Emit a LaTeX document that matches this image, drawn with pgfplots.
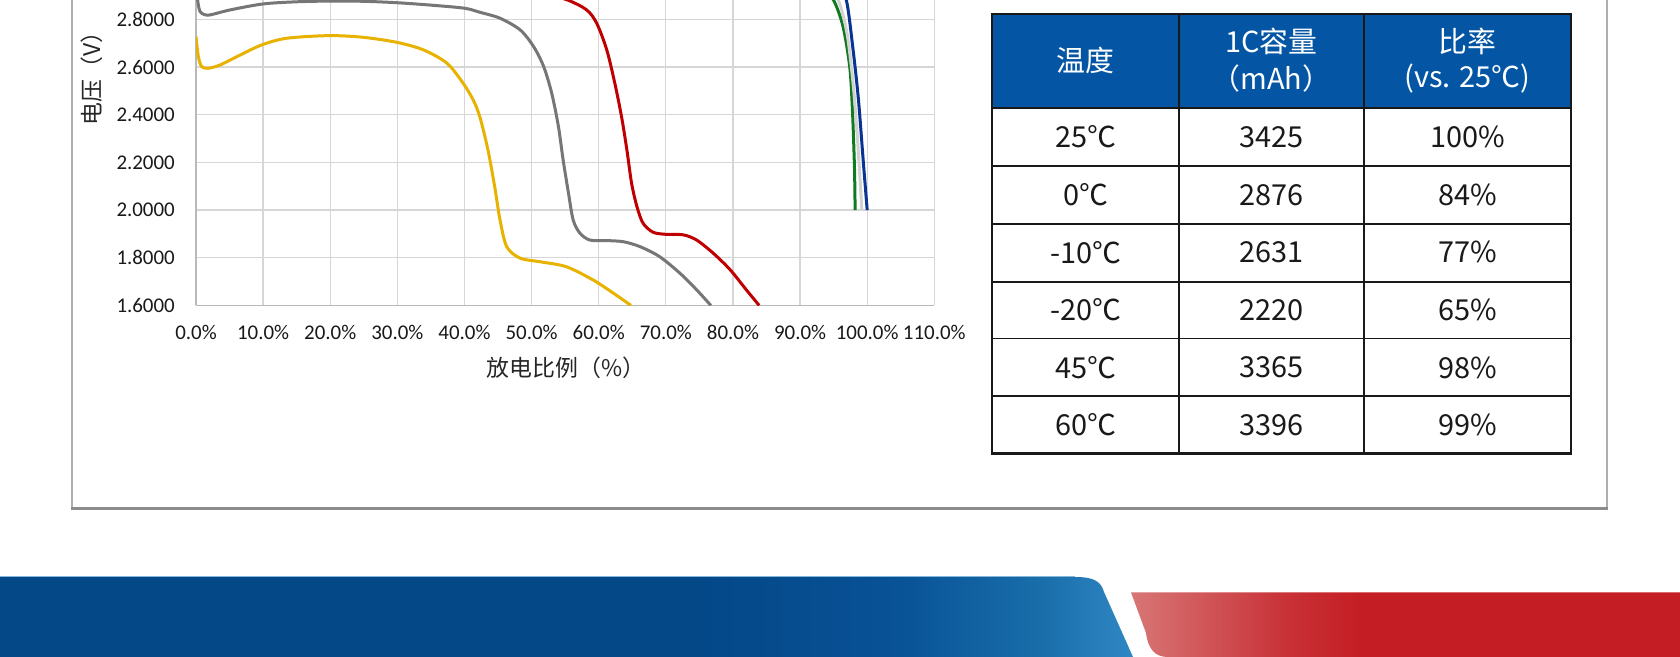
\documentclass[border=0pt]{standalone}
\usepackage{fontspec}
\setmainfont{Carlito}
\newfontfamily\cjk{Noto Sans CJK SC}
\usepackage{pgfplots}
\pgfplotsset{compat=1.18}

\definecolor{gridc}{RGB}{214,214,214}
\definecolor{axc}{RGB}{185,185,185}
\definecolor{framec}{RGB}{140,140,140}
\definecolor{yel}{RGB}{232,178,0}
\definecolor{gry}{RGB}{118,118,118}
\definecolor{rd}{RGB}{192,0,0}
\definecolor{grn}{RGB}{16,122,32}
\definecolor{lgry}{RGB}{210,210,210}
\definecolor{blu}{RGB}{10,52,145}
\definecolor{hdr}{RGB}{4,86,165}
\definecolor{tbl}{RGB}{25,25,25}
\definecolor{bd}{RGB}{4,72,136}
\definecolor{bm}{RGB}{8,82,150}
\definecolor{bm2}{RGB}{25,110,170}
\definecolor{bl}{RGB}{48,135,195}
\definecolor{rp}{RGB}{216,118,118}
\definecolor{rm}{RGB}{200,50,55}
\definecolor{rr}{RGB}{196,30,36}

\pgfdeclarehorizontalshading{blueband}{100bp}{color(0bp)=(bd); color(25bp)=(bd); color(56bp)=(bd); color(64.7bp)=(bm); color(70.9bp)=(bm2); color(75bp)=(bl); color(100bp)=(bl)}
\pgfdeclarehorizontalshading{redband}{100bp}{color(0bp)=(rp); color(25bp)=(rp); color(39bp)=(rm); color(46bp)=(rr); color(75bp)=(rr); color(100bp)=(rr)}

\begin{document}
\begin{tikzpicture}[x=1bp,y=1bp]
\useasboundingbox (0,0) rectangle (1680,657);
\fill[white] (0,0) rectangle (1680,657);

% outer frame of the chart panel
\draw[framec!70, line width=1.2bp] (72,657) -- (72,148.5);
\draw[framec!70, line width=1.2bp] (1607,657) -- (1607,148.5);
\draw[framec, line width=2.5bp] (71.4,148.5) -- (1607.6,148.5);

\begin{axis}[
  at={(196bp,351.6bp)}, anchor=south west, scale only axis,
  width=738.3bp, height=305.4bp,
  xmin=0, xmax=110, ymin=1.6, ymax=2.8816,
  xtick={0,10,20,30,40,50,60,70,80,90,100,110},
  xticklabels={0.0\%,10.0\%,20.0\%,30.0\%,40.0\%,50.0\%,60.0\%,70.0\%,80.0\%,90.0\%,100.0\%,110.0\%},
  ytick={1.6,1.8,2.0,2.2,2.4,2.6,2.8},
  yticklabels={1.6000,1.8000,2.0000,2.2000,2.4000,2.6000,2.8000},
  grid=major, major grid style={gridc, line width=1.3bp},
  axis x line*=bottom, axis y line*=left,
  axis line style={-, axc, line width=1.6bp},
  major tick length=0pt,
  tick label style={font=\fontsize{21}{25}\selectfont, text=black!90},
  yticklabel style={anchor=east, inner sep=0pt, xshift=-21bp},
  xticklabel style={anchor=north, inner sep=0pt, yshift=-20bp},
  every axis plot/.append style={line width=3bp, no marks, smooth, tension=0.5},
]
% -20C
\addplot[yel] coordinates {(0,2.728) (0.35,2.644) (0.85,2.602) (1.8,2.595) (3.6,2.609) (6.6,2.651) (9.8,2.693) (13.5,2.721) (19.9,2.732) (24.9,2.725) (29.9,2.704) (33.9,2.672) (37.4,2.616) (39.8,2.532) (41.3,2.462) (42.3,2.39) (43.5,2.252) (44.5,2.098) (45.3,1.958) (46.3,1.846) (48.3,1.798) (51.3,1.783) (55.2,1.762) (59.2,1.706) (62.2,1.651) (64.8,1.60)};
% -10C
\addplot[gry] coordinates {(0,2.95) (0.3,2.87) (0.6,2.833) (1.2,2.821) (2.1,2.819) (5.1,2.84) (10,2.865) (15,2.874) (20,2.877) (25,2.876) (30,2.87) (35,2.86) (40,2.847) (42.3,2.83) (45.3,2.805) (48.3,2.756) (50.3,2.686) (51.8,2.602) (53.0,2.49) (54.0,2.35) (54.7,2.21) (55.5,2.07) (56.2,1.958) (57.2,1.903) (58.7,1.874) (61.2,1.872) (63.7,1.867) (66.2,1.846) (69.1,1.804) (72.1,1.735) (74.6,1.665) (76.7,1.60)};
% 0C
\addplot[rd] coordinates {(52,2.91) (55.5,2.88) (58.2,2.84) (59.7,2.784) (61.2,2.672) (62.4,2.532) (63.4,2.392) (64.2,2.252) (64.9,2.112) (65.7,2.014) (66.6,1.945) (68.1,1.907) (70.1,1.898) (72.6,1.896) (74.6,1.874) (77.1,1.818) (79.6,1.749) (82.0,1.665) (83.9,1.60)};
% 45C
\addplot[grn] coordinates {(93,2.95) (95,2.88) (96.4,2.77) (97.4,2.60) (97.8,2.42) (98.1,2.182) (98.2,2.0)};
% 60C
\addplot[lgry] coordinates {(93.8,2.95) (95.7,2.88) (97.0,2.74) (97.9,2.53) (98.5,2.32) (99.0,2.10) (99.2,2.0)};
% 25C
\addplot[blu] coordinates {(95.5,2.95) (96.9,2.88) (97.9,2.672) (98.7,2.462) (99.4,2.21) (100.0,2.0)};
\end{axis}

% axis titles
\node[rotate=90, font=\cjk\fontsize{23}{27}\selectfont, text=black!85] at (91.7,583.7) {电压（V）};
\node[font=\cjk\fontsize{23}{27}\selectfont, text=black!85] at (566,289) {放电比例（\%）};

% capacity table
\fill[hdr] (992,643.1) rectangle (1571,548.8);
\foreach \y in {548.8,490.9,433.1,375.2,318.4,260.6}
  \draw[tbl, line width=1.8bp] (992,\y) -- (1571,\y);
\foreach \x in {1179,1364}
  \draw[tbl, line width=1.8bp] (\x,643.1) -- (\x,203.8);
\draw[tbl, line width=2.2bp] (992,203.8) rectangle (1571,643.1);
\draw[tbl, line width=3bp] (991,203.8) -- (1572,203.8);

\begin{scope}[every node/.style={font=\cjk\fontsize{29}{33}\selectfont, text=white, inner sep=0pt}]
\node at (1085.5,597) {温度};
\node at (1271.5,615.3) {1C容量};
\node at (1271.5,578) {（mAh）};
\node at (1467.5,615.3) {比率};
\node at (1467.5,578) {(vs. 25℃)};
\end{scope}

\begin{scope}[every node/.style={font=\cjk\fontsize{29}{33}\selectfont, text=black!90, inner sep=0pt}]
\foreach \t/\c/\r [count=\i from 0] in {25℃/3425/100\%, 0℃/2876/84\%, -10℃/2631/77\%, -20℃/2220/65\%, 45℃/3365/98\%, 60℃/3396/99\%}{
  \pgfmathsetmacro{\yy}{519.85-57.6*\i}
  \node at (1085.5,\yy) {\t};
  \node at (1271.5,\yy) {\c};
  \node at (1467.5,\yy) {\r};
}
\end{scope}

% bottom banner
\shade[shading=blueband] (0,80) -- (1075,80) .. controls (1095,80) and (1101,75) .. (1104,65) -- (1133,0) -- (0,0) -- cycle;
\draw[bl!60, line width=1bp] (0,80) -- (1075,80);
\shade[shading=redband] (1131,64.5) -- (1146,24) .. controls (1148,8) and (1155,0) .. (1168,0) -- (1680,0) -- (1680,64.5) -- cycle;
\end{tikzpicture}
\end{document}
